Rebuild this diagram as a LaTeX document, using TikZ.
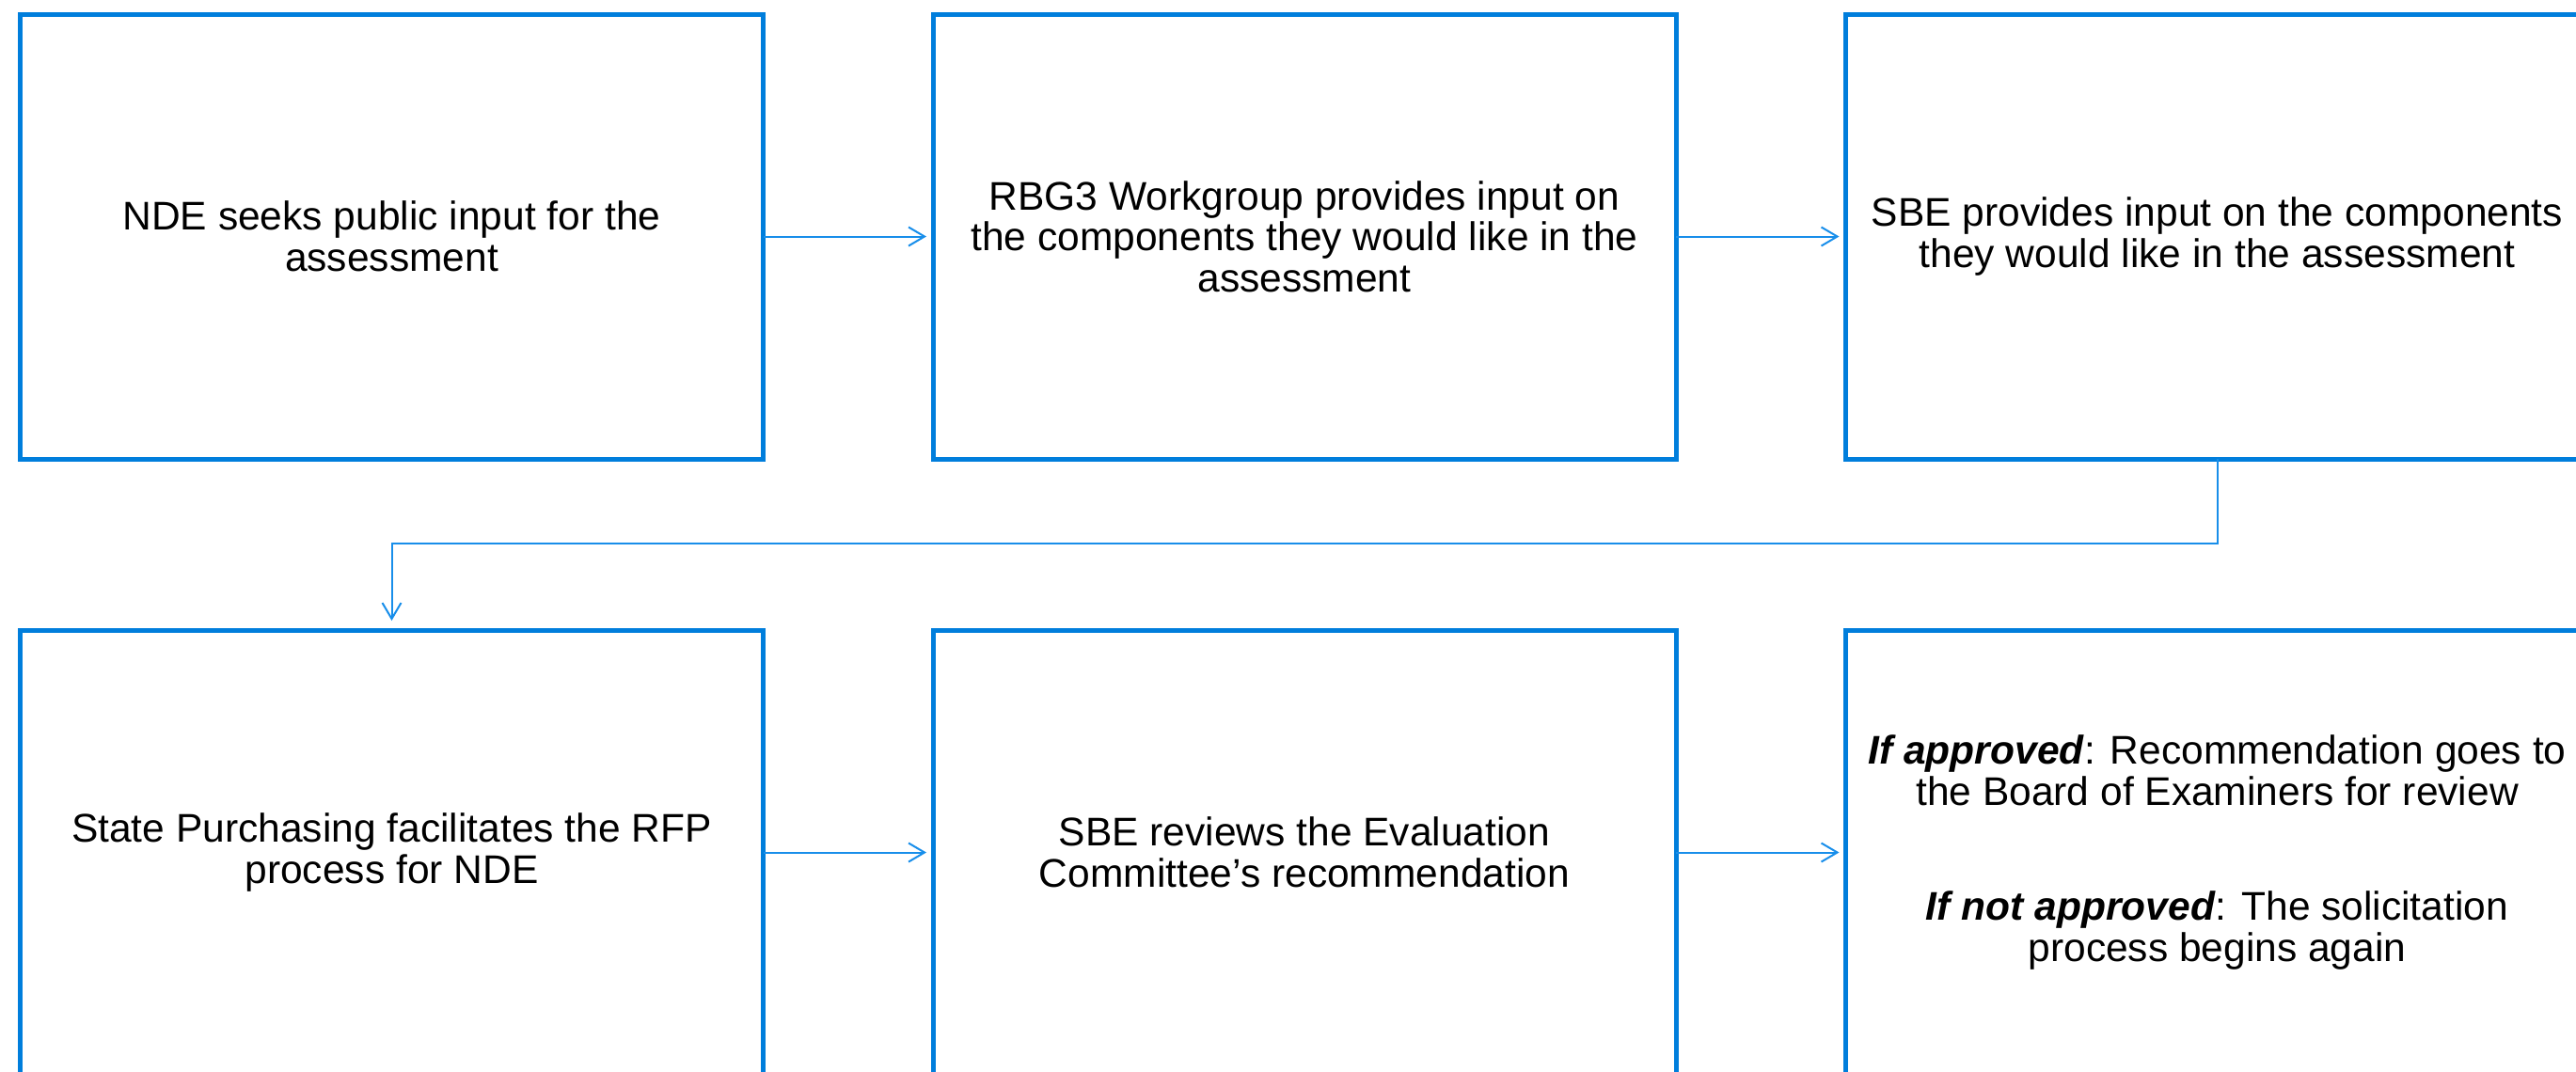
\documentclass[tikz,border=0pt]{standalone}
\usepackage{fontspec}
\setmainfont{Liberation Sans}
\usetikzlibrary{positioning,arrows.meta}
\definecolor{boxblue}{RGB}{0,126,220}
\definecolor{arrowblue}{RGB}{24,142,234}
\begin{document}
\begin{tikzpicture}[
  stepbox/.style={draw=boxblue, line width=0.05cm, minimum width=7.9cm, minimum height=4.73cm,
    outer sep=0pt, align=center, font=\fontsize{12.1pt}{12.4pt}\selectfont},
  flow/.style={draw=arrowblue, line width=0.02cm, -{Straight Barb[length=0.17cm,width=0.2cm]}, shorten >=0.07cm}]
  \useasboundingbox (0,0) rectangle (27.39,-11.39);
  % first row
  \node[stepbox] (npublic) at (4.165,-2.515) {NDE seeks public input for the\\assessment};
  \node[stepbox, right=1.805cm of npublic] (rbginput) {RBG3 Workgroup provides input on\\the components they would like in the\\assessment};
  \node[stepbox, right=1.805cm of rbginput] (sbeinput) {SBE provides input on the components\\they would like in the assessment};
  % second row
  \node[stepbox, below=1.82cm of npublic] (purchasing) {State Purchasing facilitates the RFP\\process for NDE};
  \node[stepbox, right=1.805cm of purchasing] (sbereview) {SBE reviews the Evaluation\\Committee’s recommendation};
  \node[stepbox, right=1.805cm of sbereview] (decision) {\textbf{\textit{If approved}}: Recommendation goes to\\the Board of Examiners for review\\[0.79cm]\textbf{\textit{If not approved}}: The solicitation\\process begins again};
  % connectors
  \draw[flow] (npublic) -- (rbginput);
  \draw[flow] (rbginput) -- (sbeinput);
  \draw[flow, shorten >=0.1cm] (sbeinput.south) -- ++(0,-0.9) -| (purchasing.north);
  \draw[flow] (purchasing) -- (sbereview);
  \draw[flow] (sbereview) -- (decision);
\end{tikzpicture}
\end{document}
